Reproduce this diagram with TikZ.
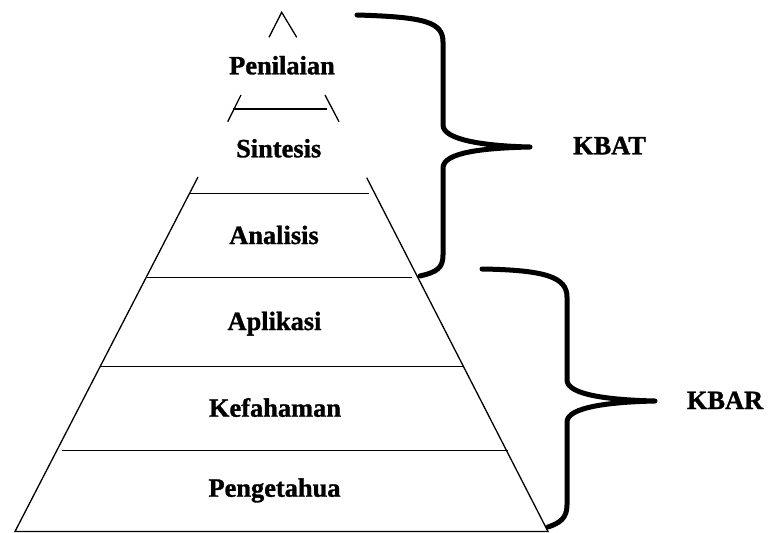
\documentclass[tikz,border=0pt]{standalone}
\usepackage{fontspec}
\setmainfont{Liberation Serif}[BoldFeatures={FakeBold=1.2}]
\begin{document}
\begin{tikzpicture}[x=1pt,y=-1pt,
  thinline/.style={line width=1.3pt},
  bracepath/.style={line width=5pt,line cap=round,line join=round},
  lbl/.style={anchor=base,inner sep=0pt,font=\fontsize{26.4}{30}\selectfont\bfseries}]
\useasboundingbox (0,0) rectangle (769,533);
% pyramid sides
\draw[thinline] (269,37.3) -- (281.7,12.3) -- (296.7,37.3);
\draw[thinline] (227.7,121.7) -- (241,95);
\draw[thinline] (325,95) -- (339,121.7);
\draw[thinline] (198,177) -- (15,531.5) -- (548,531.5) -- (366.7,177.7);
% level lines
\draw[thinline] (233,109) -- (327,109);
\draw[thinline] (190,193.5) -- (368.5,193.5);
\draw[thinline] (146.7,277.7) -- (412,277.7);
\draw[thinline] (100,366.7) -- (463,366.7);
\draw[thinline] (61.7,450.5) -- (508,450.5);
% labels
\node[lbl] (pen) at (282,74.3) {Penilaian};
\node[lbl] (sin) at (278.7,157.3) {Sintesis};
\node[lbl] (ana) at (274,244) {Analisis};
\node[lbl] (apl) at (274.5,330) {Aplikasi};
\node[lbl] (kef) at (275,416.7) {Kefahaman};
\node[lbl] (pgt) at (274.5,496.7) {Pengetahua};
\node[lbl] (kbat) at (609.5,154.3) {KBAT};
\node[lbl] (kbar) at (725,409) {KBAR};
% braces
\draw[bracepath] (357,15) .. controls (425,17) and (443,22) .. (443,42)
  -- (443,125) .. controls (443,140) and (485,146) .. (530,147)
  .. controls (485,148) and (443,152) .. (443,168)
  -- (443,255) .. controls (443,268) and (437,272) .. (420,276);
\draw[bracepath] (482,269) .. controls (545,270) and (567,277) .. (567,297)
  -- (567,380) .. controls (567,395) and (610,400) .. (655,401)
  .. controls (610,402) and (567,407) .. (567,422)
  -- (567,505) .. controls (567,518) and (560,523) .. (548,527);
\end{tikzpicture}
\end{document}
